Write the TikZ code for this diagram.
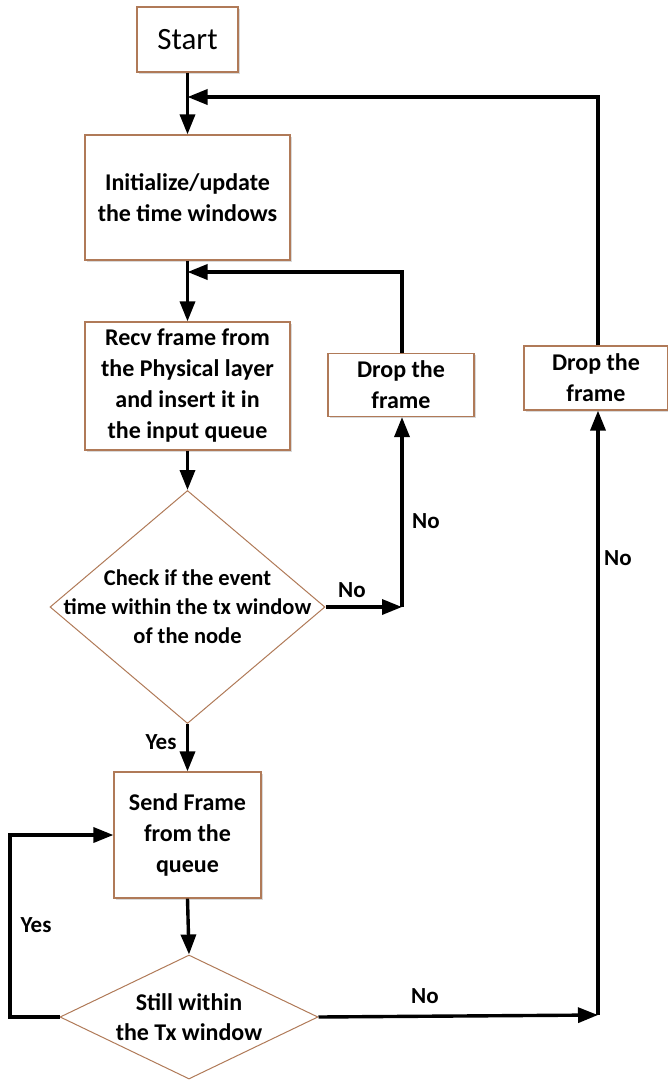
\documentclass[tikz,border=0pt]{standalone}
\usepackage{fontspec}
\setmainfont{Carlito}
\usetikzlibrary{arrows.meta,shapes.geometric,shadows}
\definecolor{boxborder}{RGB}{176,122,88}
\tikzset{
  box/.style={draw=boxborder, line width=1.2pt, fill=white, rectangle, inner sep=0pt, align=center,
    font=\bfseries\fontsize{24}{31}\selectfont,
    drop shadow={shadow xshift=1.5pt, shadow yshift=-1.5pt, opacity=0.25, fill=black!60}},
  dec/.style={draw=boxborder, line width=1pt, fill=white, diamond, inner sep=0pt},
  dectext/.style={align=center, inner sep=0pt, font=\bfseries\fontsize{22.5}{29}\selectfont},
  lbl/.style={font=\bfseries\fontsize{23}{28}\selectfont, inner sep=0pt},
  conn/.style={line width=3.4pt, -{Triangle[length=20pt,width=15pt]}},
  plain/.style={line width=3.4pt}
}
\begin{document}
\begin{tikzpicture}[x=1pt,y=-1pt]
\useasboundingbox (0,0) rectangle (667,1082);
% nodes
\node[box, minimum width=101pt, minimum height=65pt, font=\fontsize{31}{36}\selectfont] (start) at (187.5,39.5) {Start};
\node[box, minimum width=205pt, minimum height=125pt] (init) at (187.5,197.5) {Initialize/update\\the time windows};
\node[box, minimum width=205pt, minimum height=128pt] (recv) at (187.5,386) {Recv frame from\\the Physical layer\\and insert it in\\the input queue};
\node[box, minimum width=146pt, minimum height=63pt] (drop1) at (401,385) {Drop the\\frame};
\node[box, minimum width=144pt, minimum height=64pt] (drop2) at (596,378) {Drop the\\frame};
\node[dec, minimum width=275pt, minimum height=233pt] (d1) at (187.5,607) {};
\node[dectext] (d1t) at (187.5,607) {Check if the event\\time within the tx window\\of the node};
\node[box, minimum width=147pt, minimum height=126pt] (send) at (187.5,835) {Send Frame\\from the\\queue};
\node[dec, minimum width=258pt, minimum height=124pt] (d2) at (189,1017) {};
\node[dectext, font=\bfseries\fontsize{24}{30}\selectfont] (d2t) at (189,1017) {Still within\\the Tx window};
% coordinates
\coordinate (m1) at (187.5,97);
\coordinate (m2) at (187.5,272);
\coordinate (c1) at (402,607);
\coordinate (c2) at (598,1015);
\coordinate (l1) at (10,1017);
\coordinate (l2) at (10,835);
% connectors
\draw[conn] (start.south) -- (init.north);
\draw[conn] (drop2.north -| c2) -- (c2 |- m1) -- (m1);
\draw[conn] (init.south) -- (recv.north);
\draw[conn] (drop1.north -| c1) -- (c1 |- m2) -- (m2);
\draw[conn] (recv.south) -- (d1.north);
\draw[conn] (d1.south) -- (send.north);
\draw[conn] (d1.east) -- (c1);
\draw[conn] (c1) -- (c1 |- drop1.south);
\draw[conn] (send.south) -- (d2.north);
\draw[conn] (d2.west) -- (l1) -- (l2) -- (send.west);
\draw[conn] (d2.east) -- (c2);
\draw[conn] (c2) -- (c2 |- drop2.south);
% labels
\node[lbl] (yes1) at (161,742) {Yes};
\node[lbl] (no1) at (352,590) {No};
\node[lbl] (no2) at (426,521) {No};
\node[lbl] (yes2) at (36,925) {Yes};
\node[lbl] (no3) at (425,996) {No};
\node[lbl] (no4) at (618,558) {No};
\end{tikzpicture}
\end{document}
